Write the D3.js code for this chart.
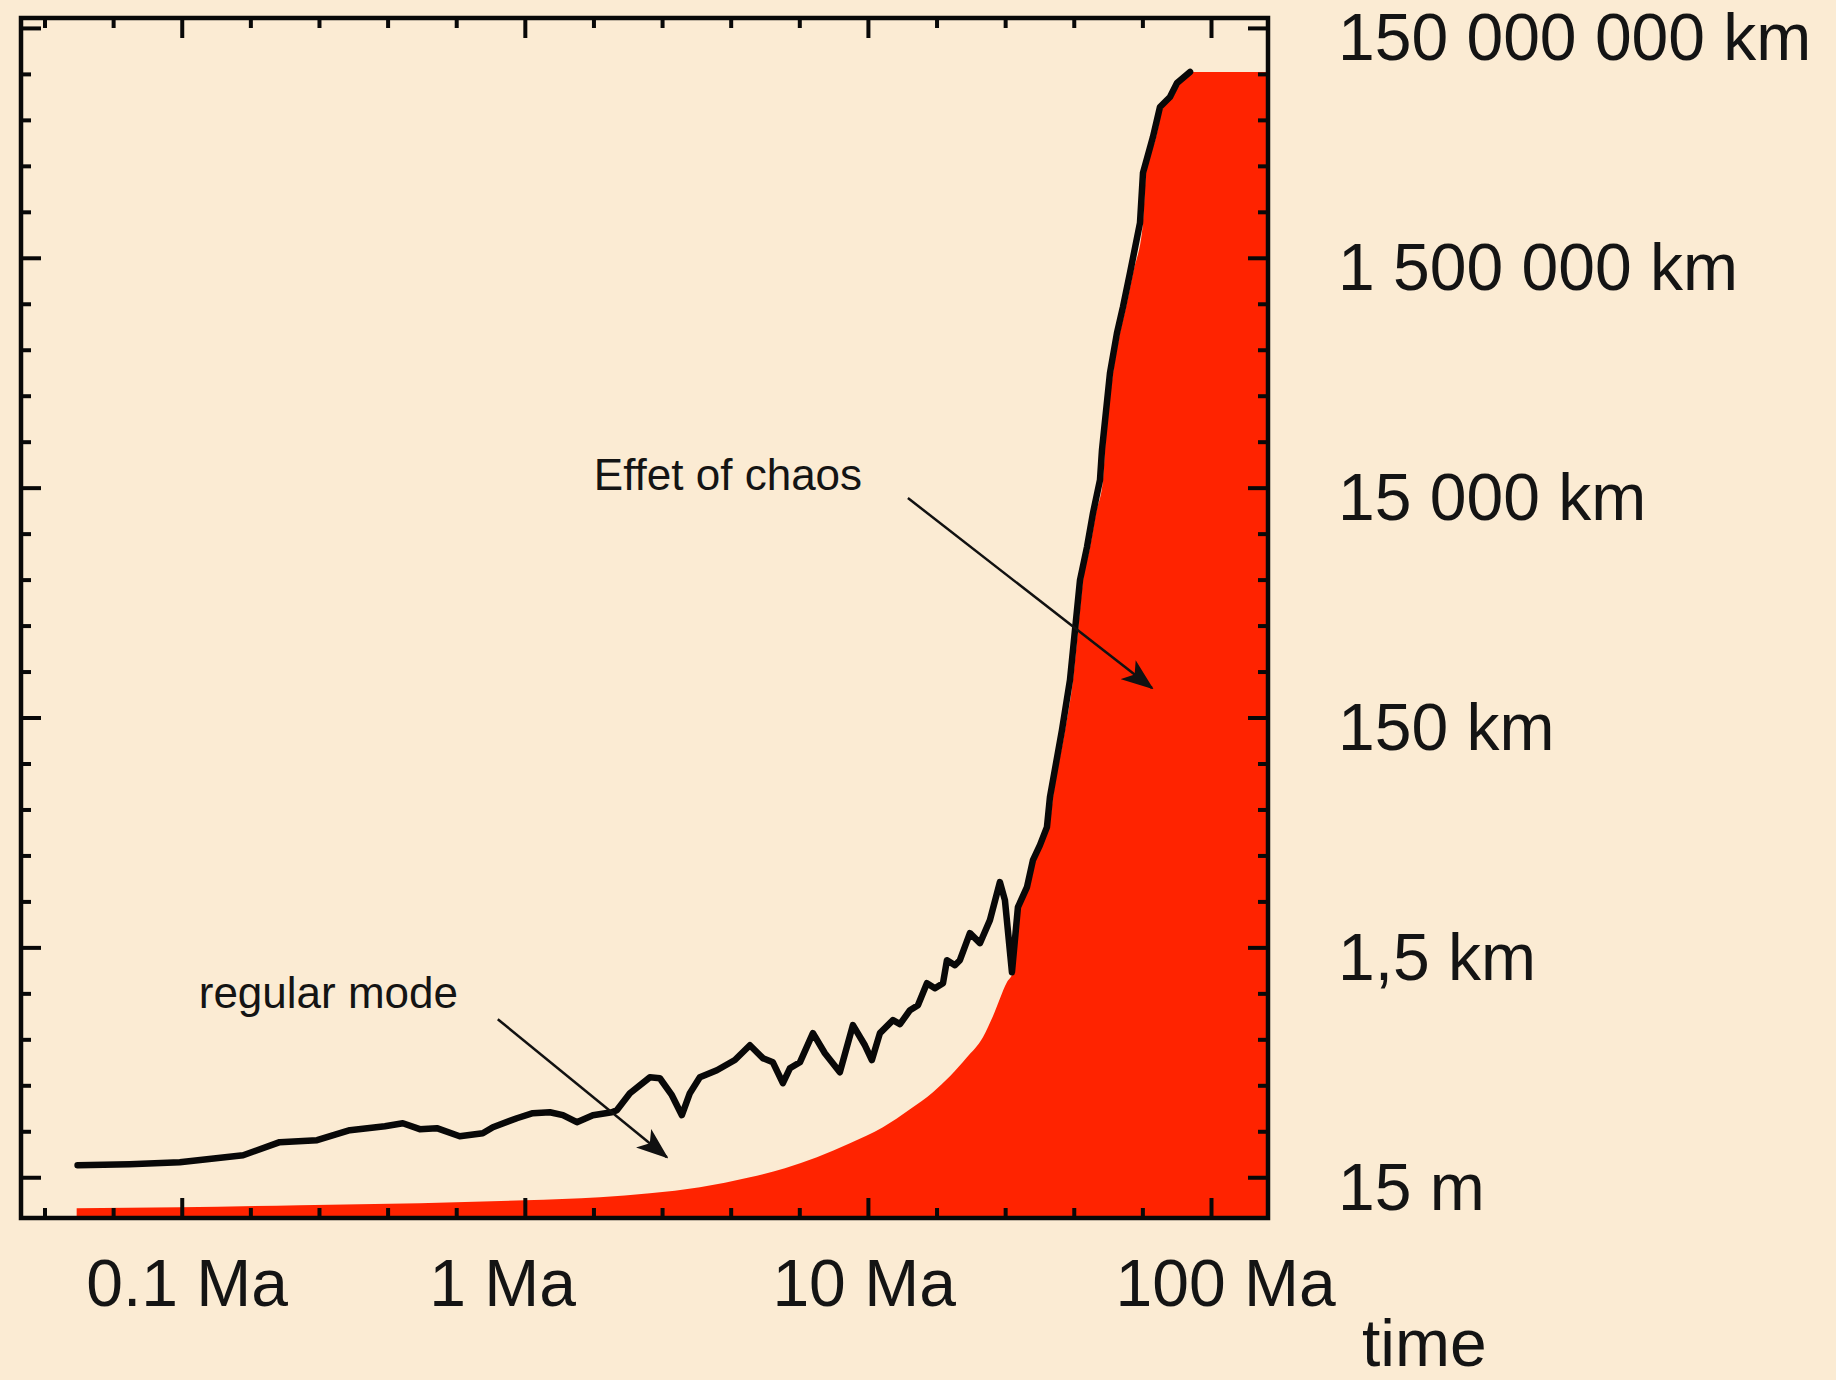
<!DOCTYPE html>
<html>
<head>
<meta charset="utf-8">
<script src="https://d3js.org/d3.v7.min.js"></script>
<style>
body { margin: 0; background: #fbebd3; }
svg text { font-family: "Liberation Sans", Arial, Helvetica, sans-serif; fill: #141414; }
</style>
</head>
<body>
<svg width="1836" height="1380"></svg>
<script>

// time (Ma) vs distance (km) of the black trajectory
var lineMa = [0.0497, 0.0705, 0.0987, 0.151, 0.193, 0.248, 0.309, 0.391, 0.441, 0.494,
  0.554, 0.646, 0.754, 0.807, 0.948, 1.055, 1.183, 1.291, 1.418, 1.579,
  1.793, 1.854, 2.024, 2.314, 2.475, 2.683, 2.869, 3.027, 3.237, 3.629,
  4.095, 4.529, 4.942, 5.285, 5.651, 5.923, 6.336, 6.914, 7.492, 8.285,
  9.043, 9.801, 10.27, 10.84, 11.83, 12.40, 13.26, 13.99, 14.86, 15.68,
  16.55, 17.00, 17.93, 18.54, 19.83, 21.21, 22.68, 24.25, 25.08, 26.29,
  27.37, 29.08, 30.27, 31.73, 33.25, 33.93, 36.78, 38.81, 40.14, 41.51,
  43.50, 45.29, 47.47, 48.11, 50.76, 53.20, 55.38, 58.05, 62.09, 63.35,
  67.74, 71.00, 75.94, 79.60, 86.86];
var lineKm = [0.0191, 0.0195, 0.0203, 0.0233, 0.0303, 0.0315, 0.0385, 0.0417, 0.0443, 0.0393,
  0.0401, 0.0341, 0.0362, 0.0409, 0.0489, 0.0541, 0.0552, 0.0520, 0.0452, 0.0520,
  0.0552, 0.0575, 0.0808, 0.111, 0.109, 0.0776, 0.0520, 0.0808, 0.111, 0.128,
  0.157, 0.211, 0.163, 0.150, 0.0987, 0.133, 0.150, 0.269, 0.180, 0.123,
  0.316, 0.211, 0.157, 0.269, 0.349, 0.322, 0.426, 0.471, 0.732, 0.662,
  0.732, 1.161, 1.050, 1.161, 1.994, 1.632, 2.588, 5.540, 3.862, 0.913,
  3.357, 5.012, 8.611, 11.63, 16.68, 30.43, 116.6, 317.4, 864.6, 2355,
  4562, 9016, 17470, 31880, 149100, 332400, 559600, 1.106e6, 3.014e6, 8.205e6,
  1.688e7, 3.080e7, 3.764e7, 4.982e7, 6.210e7];

// upper edge of the red region
var envMa = [0.0494, 0.0987, 0.2208, 0.494, 1.0, 1.654, 2.314, 3.237, 4.529, 5.728,
  7.100, 8.862, 11.06, 13.26, 15.47, 17.34, 19.44, 21.64, 23.14, 25.42,
  26.47, 27.93, 29.67, 30.89, 33.93, 34.62, 37.53, 39.60, 40.96, 42.36,
  44.39, 46.20, 48.43, 49.09, 51.80, 54.28, 56.52, 59.24, 63.35, 64.65,
  69.14, 72.46, 77.48, 81.21, 88.04, 146.6];
var envKm = [0.00806, 0.00822, 0.00856, 0.00891, 0.00946, 0.01005, 0.01088, 0.01228, 0.015, 0.01797,
  0.0224, 0.02964, 0.04086, 0.0586, 0.0824, 0.1135, 0.1662, 0.2481, 0.3778, 0.7469,
  0.9125, 3.494, 5.217, 8.962, 19.19, 30.43, 116.6, 317.4, 864.6, 2355,
  4562, 9016, 17470, 31880, 149100, 332400, 559600, 1.106e6, 3.014e6, 8.205e6,
  1.688e7, 3.080e7, 3.764e7, 4.982e7, 6.210e7, 6.210e7];

// axis ticks and labels
var xMajor = [0.1, 1, 10, 100];
var xLabels = ["0.1 Ma", "1 Ma", "10 Ma", "100 Ma"];
var yMajor = [1.5e8, 1.5e6, 15000, 150, 1.5, 0.015];
var yLabels = ["150 000 000 km", "1 500 000 km", "15 000 km", "150 km", "1,5 km", "15 m"];

// annotations: [label, text Ma, text km, arrow from Ma, km, arrow to Ma, km]
var notes = [
  ["Effet of chaos", 1.589, 14290, 13.08, 12185, 67.3, 270.5],
  ["regular mode", 0.1121, 0.4436, 0.834, 0.3558, 2.594, 0.0224]
];

var svg = d3.select('svg');
var x = d3.scaleLog().domain([0.034, 146.6]).range([21, 1268]);
var y = d3.scaleLog().domain([0.00663, 1.83e8]).range([1218, 18]);

var pLeft = x.range()[0], pRight = x.range()[1];
var pTop = y.range()[1], pBottom = y.range()[0];

// minor ticks: 4 per major interval, evenly spaced in log
var xMinor = [];
for (var k = -2; k <= 2; k++)
  for (var i = 1; i <= 4; i++) {
    var v = Math.pow(10, k + 0.2 * i);
    if (v > x.domain()[0] && v < x.domain()[1]) xMinor.push(v);
  }
var yMinor = [];
yMajor.forEach(function(m) {
  for (var i = 1; i <= 4; i++) {
    var v = m * Math.pow(10, -0.4 * i);
    if (v > y.domain()[0]) yMinor.push(v);
  }
});

var defs = svg.append('defs');
defs.append('clipPath').attr('id', 'plot')
  .append('rect').attr('x', pLeft).attr('y', pTop)
  .attr('width', pRight - pLeft).attr('height', pBottom - pTop);
defs.append('marker').attr('id', 'head')
  .attr('viewBox', '0 0 32 24').attr('refX', 30).attr('refY', 12)
  .attr('markerWidth', 32).attr('markerHeight', 24)
  .attr('markerUnits', 'userSpaceOnUse').attr('orient', 'auto')
  .append('path').attr('d', 'M0,0 L32,12 L0,24 L8,12 Z').attr('fill', '#111');

var plot = svg.append('g').attr('clip-path', 'url(#plot)');

var area = d3.area()
  .x(function(d) { return x(d[0]); })
  .y0(pBottom)
  .y1(function(d) { return y(d[1]); })
  .curve(d3.curveMonotoneX);
plot.append('path')
  .datum(d3.zip(envMa, envKm))
  .attr('d', area)
  .attr('fill', '#ff2300');

var line = d3.line()
  .x(function(d) { return x(d[0]); })
  .y(function(d) { return y(d[1]); });
plot.append('path')
  .datum(d3.zip(lineMa, lineKm))
  .attr('d', line)
  .attr('fill', 'none')
  .attr('stroke', '#080808')
  .attr('stroke-width', 6.5)
  .attr('stroke-linejoin', 'round')
  .attr('stroke-linecap', 'round');

// ticks on all four sides, pointing inward
function ticks(axis, tx, ty, values, len) {
  var g = svg.append('g').attr('transform', 'translate(' + tx + ',' + ty + ')')
    .call(axis.tickValues(values).tickSize(-len).tickFormat(''));
  g.select('.domain').remove();
  g.selectAll('line').attr('stroke', '#080808').attr('stroke-width', 4);
  return g;
}
ticks(d3.axisBottom(x), 0, pBottom, xMinor, 10);
ticks(d3.axisTop(x), 0, pTop, xMinor, 10);
ticks(d3.axisTop(x), 0, pTop, xMajor, 20);
ticks(d3.axisLeft(y), pLeft, 0, yMinor, 10);
ticks(d3.axisLeft(y), pLeft, 0, yMajor, 20);
ticks(d3.axisRight(y), pRight, 0, yMinor, 10);

var xAxis = svg.append('g').attr('transform', 'translate(0,' + pBottom + ')')
  .call(d3.axisBottom(x).tickValues(xMajor).tickSize(-20)
    .tickFormat(function(d, i) { return xLabels[i]; }));
xAxis.select('.domain').remove();
xAxis.selectAll('line').attr('stroke', '#080808').attr('stroke-width', 4);
xAxis.selectAll('text')
  .attr('text-anchor', 'start').attr('x', -96).attr('y', 88).attr('dy', null)
  .style('font-size', '66px').attr('fill', '#141414');

var yAxis = svg.append('g').attr('transform', 'translate(' + pRight + ',0)')
  .call(d3.axisRight(y).tickValues(yMajor).tickSize(-20)
    .tickFormat(function(d, i) { return yLabels[i]; }));
yAxis.select('.domain').remove();
yAxis.selectAll('line').attr('stroke', '#080808').attr('stroke-width', 4);
yAxis.selectAll('text')
  .attr('text-anchor', 'start').attr('x', 70).attr('y', 32).attr('dy', null)
  .style('font-size', '66px').attr('fill', '#141414');

svg.append('text')
  .attr('x', 1362).attr('y', 1366)
  .style('font-size', '66px')
  .text('time');

// frame
svg.append('rect')
  .attr('x', pLeft).attr('y', pTop)
  .attr('width', pRight - pLeft).attr('height', pBottom - pTop)
  .attr('fill', 'none').attr('stroke', '#080808').attr('stroke-width', 4.5);

// annotations
notes.forEach(function(n) {
  svg.append('text')
    .attr('x', x(n[1])).attr('y', y(n[2]))
    .style('font-size', '44px')
    .text(n[0]);
  svg.append('line')
    .attr('x1', x(n[3])).attr('y1', y(n[4]))
    .attr('x2', x(n[5])).attr('y2', y(n[6]))
    .attr('stroke', '#111').attr('stroke-width', 2.5)
    .attr('marker-end', 'url(#head)');
});

</script>
</body>
</html>
